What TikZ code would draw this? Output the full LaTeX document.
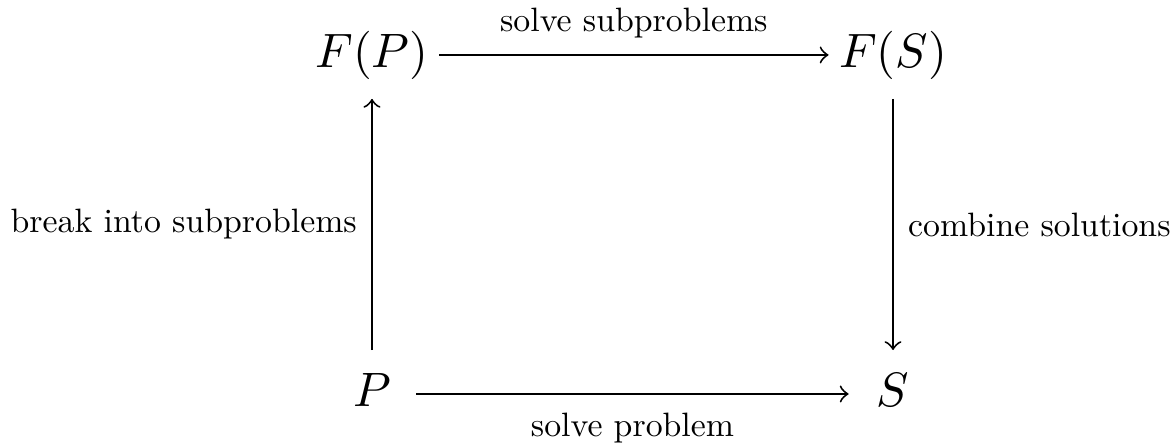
\documentclass[tikz,border=0pt]{standalone}
\usepackage{amsmath}

\begin{document}
\begin{tikzpicture}[
        obj/.style={
            inner xsep=2pt,
            inner ysep=3.9pt,
            text height=7.5pt,
            text depth=2.5pt,
            minimum width=18pt
        },
        morph/.style={
            -to,
            line width=0.4pt
        },
        lbl/.style={
            scale=0.7,
            transform shape,
            inner sep=4.3pt
        }
    ]

    \useasboundingbox (0,0) rectangle (8.544,3.231);

    % Objects of the square
    \node[obj] (FP) at (2.707,2.831) {$F(P)$};
    \node[obj] (FS) at (6.499,2.831) {$F(S)$};

    \node[obj] (P) at (2.707,0.364) {$P$};
    \node[obj] (S) at (6.499,0.364) {$S$};

    % Arrows with their labels
    \draw[morph] (FP) -- node[lbl,above,yshift=0.4pt] {solve subproblems} (FS);
    \draw[morph] (P) -- node[lbl,below,yshift=-1.2pt] {solve problem} (S);

    \draw[morph] (P) -- node[lbl,left] {break into subproblems} (FP);
    \draw[morph] (FS) -- node[lbl,right] {combine solutions} (S);

\end{tikzpicture}
\end{document}
